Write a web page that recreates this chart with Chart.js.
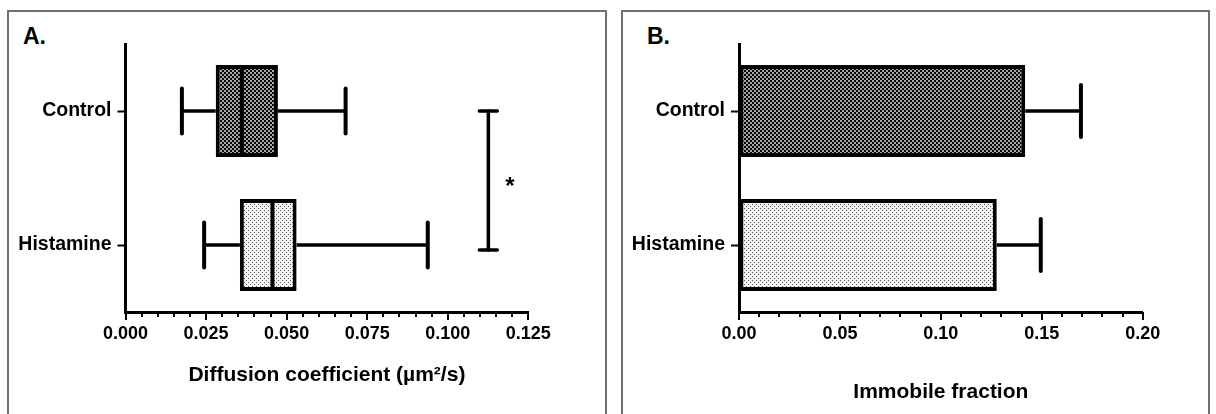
<!DOCTYPE html>
<html><head><meta charset="utf-8">
<script src="https://cdn.jsdelivr.net/npm/chart.js@4.4.1/dist/chart.umd.min.js"></script>
<style>
html,body{margin:0;padding:0;background:#fff;width:1216px;height:414px;overflow:hidden;position:relative;font-family:'Liberation Sans',Arial,sans-serif;}
.panel{position:absolute;top:10px;height:420px;border:2px solid #707070;border-bottom:none;box-sizing:border-box;}
#pa{left:7px;width:600px;}
#pb{left:621px;width:589px;}
.lbl{position:absolute;font-weight:bold;font-size:23px;line-height:23px;color:#000;}
canvas{position:absolute;}
</style></head><body>
<div class="panel" id="pa"></div><div class="panel" id="pb"></div>
<div class="lbl" style="left:23px;top:25px">A.</div>
<div class="lbl" style="left:647px;top:25px">B.</div>
<canvas id="ca" width="594" height="402" style="left:10px;top:12px"></canvas>
<canvas id="cb" width="584" height="402" style="left:624px;top:12px"></canvas>
<script>
// ---- data ----
const categories = ['Control', 'Histamine'];
const diffWhiskerLow  = [0.0175, 0.0244];
const diffQ1          = [0.0280, 0.0355];
const diffMedian      = [0.0361, 0.0456];
const diffQ3          = [0.0473, 0.0531];
const diffWhiskerHigh = [0.0683, 0.0938];
const diffMajorTicks  = [0, 0.025, 0.05, 0.075, 0.1, 0.125];
const diffMinorStep   = 0.005;
const sigBracketX     = 0.1126;
const sigStarX        = 0.1193;
const sigLabel        = '*';
const immobileMean    = [0.1418, 0.1277];
const immobileErr     = [0.0276, 0.0218];
const immMajorTicks   = [0, 0.05, 0.1, 0.15, 0.2];
const immMinorStep    = 0.01;
const titleA = 'Diffusion coefficient (µm²/s)';
const titleB = 'Immobile fraction';

// ---- styling helpers ----
const FONT = "'Liberation Sans', Arial, sans-serif";
Chart.defaults.font.family = FONT;
Chart.defaults.font.weight = 'bold';
Chart.defaults.color = '#000';

function makePattern(target, size, bg, fg, cells){
  const c = document.createElement('canvas'); c.width = c.height = size;
  const g = c.getContext('2d'); g.fillStyle = bg; g.fillRect(0,0,size,size);
  g.fillStyle = fg; cells.forEach(([x,y,w,h]) => g.fillRect(x,y,w,h));
  return target.getContext('2d').createPattern(c, 'repeat');
}
const ca = document.getElementById('ca'), cb = document.getElementById('cb');
const darkA  = makePattern(ca, 4, '#050505', '#a8a8a8', [[0,0,2,2],[2,2,2,2]]);
const lightA = makePattern(ca, 4, '#f3f3f3', '#5a5a5a', [[0,0,1,1],[2,2,1,1]]);
const darkB  = makePattern(cb, 4, '#050505', '#a8a8a8', [[0,0,2,2],[2,2,2,2]]);
const lightB = makePattern(cb, 4, '#f3f3f3', '#5a5a5a', [[0,0,1,1],[2,2,1,1]]);

function tickList(majors, step){
  const n = Math.round(majors[majors.length-1] / step);
  const out = [];
  for (let i = 0; i <= n; i++) out.push({value: +(i*step).toFixed(6)});
  return out;
}
const isMajor = (majors, v) => majors.some(m => Math.abs(m - v) < 1e-9);

const tickMarks = {
  id: 'tickMarks',
  afterDraw(chart, args, opts){
    const sx = chart.scales.x, ctx = chart.ctx, yb = chart.chartArea.bottom;
    ctx.save(); ctx.strokeStyle = '#000'; ctx.lineWidth = 2;
    sx.ticks.forEach(t => {
      const px = Math.round(sx.getPixelForValue(t.value));
      ctx.beginPath(); ctx.moveTo(px, yb); ctx.lineTo(px, yb + (isMajor(opts.majors, t.value) ? 8 : 5)); ctx.stroke();
    });
    ctx.restore();
  }
};

function line(ctx, x1, y1, x2, y2){ ctx.beginPath(); ctx.moveTo(x1,y1); ctx.lineTo(x2,y2); ctx.stroke(); }

const boxExtras = {
  id: 'boxExtras',
  afterDatasetsDraw(chart){
    const {ctx, scales:{x, y}} = chart;
    const meta = chart.getDatasetMeta(0);
    ctx.save(); ctx.strokeStyle = '#000';
    categories.forEach((c, i) => {
      const yc = y.getPixelForValue(i);
      const half = meta.data[i].height / 2;
      const capH = half * 0.49;
      ctx.lineCap = 'butt'; ctx.lineWidth = 3.5;
      line(ctx, x.getPixelForValue(diffWhiskerLow[i]), yc, x.getPixelForValue(diffQ1[i]), yc);
      line(ctx, x.getPixelForValue(diffQ3[i]), yc, x.getPixelForValue(diffWhiskerHigh[i]), yc);
      ctx.lineWidth = 4;
      line(ctx, x.getPixelForValue(diffMedian[i]), yc - half, x.getPixelForValue(diffMedian[i]), yc + half);
      ctx.lineCap = 'round';
      [diffWhiskerLow[i], diffWhiskerHigh[i]].forEach(v => {
        const px = x.getPixelForValue(v);
        line(ctx, px, yc - capH, px, yc + capH);
      });
    });
    // significance bracket
    const bx = x.getPixelForValue(sigBracketX);
    const y0 = y.getPixelForValue(0), y1 = y.getPixelForValue(1) + 5;
    ctx.lineWidth = 3.5; ctx.lineCap = 'round';
    line(ctx, bx, y0, bx, y1);
    line(ctx, bx - 9, y0, bx + 9, y0);
    line(ctx, bx - 9, y1, bx + 9, y1);
    ctx.font = 'bold 24px ' + FONT; ctx.fillStyle = '#000'; ctx.textAlign = 'center'; ctx.textBaseline = 'alphabetic';
    const m = ctx.measureText(sigLabel);
    const cy = (y.getPixelForValue(0) + y.getPixelForValue(1)) / 2 + 3;
    ctx.fillText(sigLabel, x.getPixelForValue(sigStarX), cy + (m.actualBoundingBoxAscent - m.actualBoundingBoxDescent) / 2);
    ctx.restore();
  }
};

const errBars = {
  id: 'errBars',
  afterDatasetsDraw(chart){
    const {ctx, scales:{x, y}} = chart;
    ctx.save(); ctx.strokeStyle = '#000';
    categories.forEach((c, i) => {
      const yc = y.getPixelForValue(i);
      const xm = x.getPixelForValue(immobileMean[i]);
      const xe = x.getPixelForValue(immobileMean[i] + immobileErr[i]);
      ctx.lineCap = 'butt'; ctx.lineWidth = 3.5;
      line(ctx, xm, yc, xe, yc);
      ctx.lineCap = 'round'; ctx.lineWidth = 4;
      line(ctx, xe, yc - 26, xe, yc + 26);
    });
    ctx.restore();
  }
};

function baseOptions(cfg){
  return {
    indexAxis: 'y',
    animation: false,
    responsive: false,
    devicePixelRatio: 1,
    events: [],
    layout: {padding: {left: 0, top: 32, right: cfg.padRight, bottom: 0}},
    plugins: {legend: {display: false}, tooltip: {enabled: false}, tickMarks: {majors: cfg.majors}},
    scales: {
      x: {
        type: 'linear', min: cfg.majors[0], max: cfg.majors[cfg.majors.length-1],
        afterBuildTicks: s => { s.ticks = tickList(cfg.majors, cfg.step); },
        afterFit: s => { s.height = 102; },
        ticks: {autoSkip: false, maxRotation: 0, minRotation: 0, padding: 3,
          font: {size: 18, weight: 'bold'},
          callback: v => isMajor(cfg.majors, v) ? v.toFixed(cfg.decimals) : ''},
        grid: {drawOnChartArea: false, drawTicks: true, tickLength: 8, tickColor: 'rgba(0,0,0,0)'},
        border: {display: true, color: '#000', width: 3},
        title: {display: true, text: cfg.title, font: {size: 21, weight: 'bold'}, padding: {top: 0, bottom: cfg.titlePad}}
      },
      y: {
        type: 'category', labels: categories, offset: true,
        afterFit: s => { s.width = cfg.yWidth; },
        ticks: {padding: 6, font: {size: 19.5, weight: 'bold'}},
        grid: {drawOnChartArea: false, offset: false, drawTicks: true, tickLength: 8, tickWidth: 2, tickColor: '#000'},
        border: {display: true, color: '#000', width: 3}
      }
    }
  };
}

new Chart(ca, {
  type: 'bar',
  data: {
    labels: categories,
    datasets: [{
      data: categories.map((c, i) => [diffQ1[i], diffQ3[i]]),
      backgroundColor: [darkA, lightA],
      borderColor: '#000', borderWidth: 4, borderSkipped: false,
      categoryPercentage: 1, barPercentage: 0.687
    }]
  },
  options: baseOptions({majors: diffMajorTicks, step: diffMinorStep, decimals: 3, title: titleA, titlePad: 26, yWidth: 115.5, padRight: 75.7}),
  plugins: [tickMarks, boxExtras]
});

new Chart(cb, {
  type: 'bar',
  data: {
    labels: categories,
    datasets: [{
      data: immobileMean,
      backgroundColor: [darkB, lightB],
      borderColor: '#000', borderWidth: 4, borderSkipped: false,
      categoryPercentage: 1, barPercentage: 0.687
    }]
  },
  options: baseOptions({majors: immMajorTicks, step: immMinorStep, decimals: 2, title: titleB, titlePad: 8.7, yWidth: 115, padRight: 65.3}),
  plugins: [tickMarks, errBars]
});
</script>
</body></html>
